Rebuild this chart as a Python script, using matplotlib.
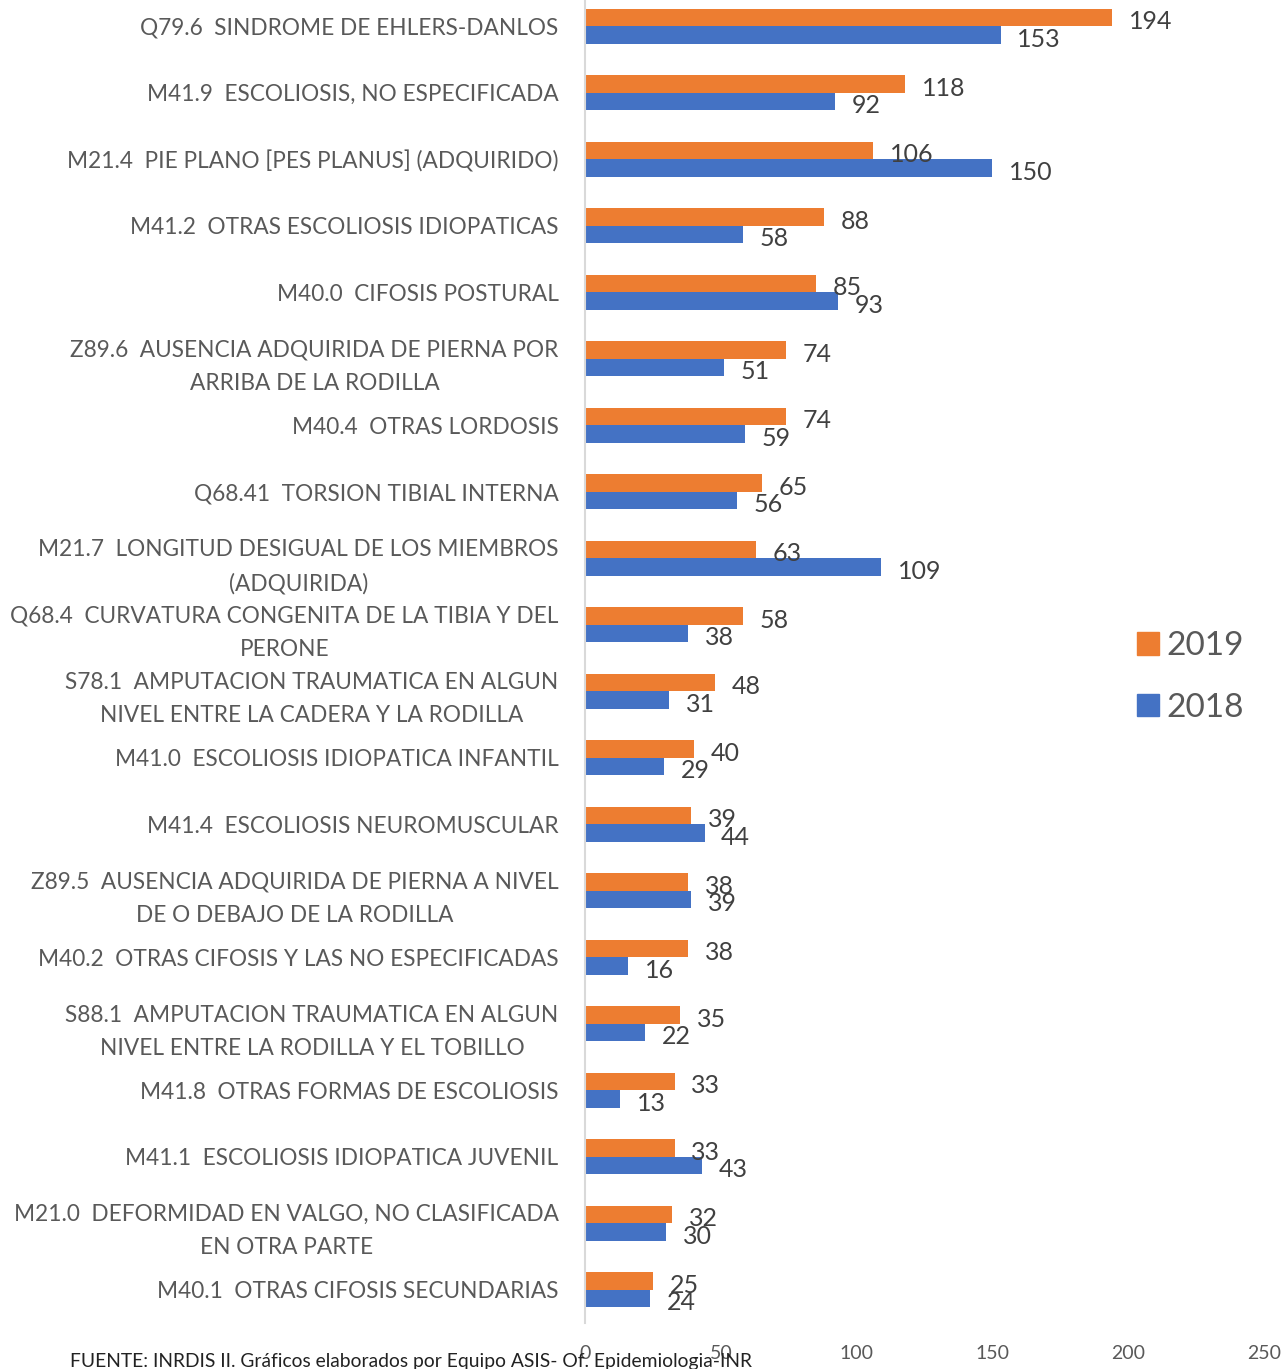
import matplotlib
matplotlib.use("Agg")
import matplotlib.pyplot as plt
from matplotlib.patches import Patch
import numpy as np

plt.rcParams['font.family'] = ['Lato', 'DejaVu Sans']

categories = [
    "Q79.6  SINDROME DE EHLERS-DANLOS",
    "M41.9  ESCOLIOSIS, NO ESPECIFICADA",
    "M21.4  PIE PLANO [PES PLANUS] (ADQUIRIDO)",
    "M41.2  OTRAS ESCOLIOSIS IDIOPATICAS",
    "M40.0  CIFOSIS POSTURAL",
    "Z89.6  AUSENCIA ADQUIRIDA DE PIERNA POR\nARRIBA DE LA RODILLA",
    "M40.4  OTRAS LORDOSIS",
    "Q68.41  TORSION TIBIAL INTERNA",
    "M21.7  LONGITUD DESIGUAL DE LOS MIEMBROS\n(ADQUIRIDA)",
    "Q68.4  CURVATURA CONGENITA DE LA TIBIA Y DEL\nPERONE",
    "S78.1  AMPUTACION TRAUMATICA EN ALGUN\nNIVEL ENTRE LA CADERA Y LA RODILLA",
    "M41.0  ESCOLIOSIS IDIOPATICA INFANTIL",
    "M41.4  ESCOLIOSIS NEUROMUSCULAR",
    "Z89.5  AUSENCIA ADQUIRIDA DE PIERNA A NIVEL\nDE O DEBAJO DE LA RODILLA",
    "M40.2  OTRAS CIFOSIS Y LAS NO ESPECIFICADAS",
    "S88.1  AMPUTACION TRAUMATICA EN ALGUN\nNIVEL ENTRE LA RODILLA Y EL TOBILLO",
    "M41.8  OTRAS FORMAS DE ESCOLIOSIS",
    "M41.1  ESCOLIOSIS IDIOPATICA JUVENIL",
    "M21.0  DEFORMIDAD EN VALGO, NO CLASIFICADA\nEN OTRA PARTE",
    "M40.1  OTRAS CIFOSIS SECUNDARIAS",
]
values_2019 = [194, 118, 106, 88, 85, 74, 74, 65, 63, 58, 48, 40, 39, 38, 38, 35, 33, 33, 32, 25]
values_2018 = [153, 92, 150, 58, 93, 51, 59, 56, 109, 38, 31, 29, 44, 39, 16, 22, 13, 43, 30, 24]
x_ticks = [0, 50, 100, 150, 200, 250]
series_names = ["2019", "2018"]

c19 = "#ED7D31"
c18 = "#4472C4"
gray = "#595959"

fig = plt.figure(figsize=(12.84, 13.69), dpi=100)
ax = fig.add_axes([585/1284, 1 - 1323/1369, (1264-585)/1284, 1330/1369])

n = len(categories)
y = np.arange(n)[::-1].astype(float)
h = 0.263
ax.barh(y + h/2, values_2019, height=h, color=c19)
ax.barh(y - h/2, values_2018, height=h, color=c18)

for yi, v in zip(y + h/2, values_2019):
    ax.annotate(str(v), xy=(v, yi), xytext=(12, -3), textcoords='offset points',
                ha='left', va='center', fontsize=18, color="#404040")
for yi, v in zip(y - h/2, values_2018):
    ax.annotate(str(v), xy=(v, yi), xytext=(12, -3), textcoords='offset points',
                ha='left', va='center', fontsize=18, color="#404040")

ax.set_xlim(0, 250)
ax.set_ylim(-0.5, n - 0.5)
ax.set_yticks(y)
ax.set_yticklabels(categories, fontsize=16.3, color=gray, multialignment='center',
                   linespacing=1.72)
ax.set_xticks(x_ticks)
ax.set_xticklabels([str(t) for t in x_ticks], fontsize=14, color=gray)
ax.tick_params(axis='y', length=0, pad=19)
ax.tick_params(axis='x', length=0, pad=16)
for s in ['top', 'right', 'bottom']:
    ax.spines[s].set_visible(False)
ax.spines['left'].set_color("#D9D9D9")
ax.spines['left'].set_linewidth(1.5)

handles = [Patch(color=c19, label=series_names[0]), Patch(color=c18, label=series_names[1])]
fig.legend(handles=handles, loc='center left', bbox_to_anchor=(1107/1284, 1 - 677/1369),
           frameon=False, fontsize=24, handlelength=0.65, handleheight=0.65,
           labelspacing=0.95, handletextpad=0.22, labelcolor=gray)

fig.text(70/1284, 1 - 1361/1369, "FUENTE: INRDIS II. Gráficos elaborados por Equipo ASIS- Of. Epidemiologia-INR",
         fontsize=13.9, color="#222222", ha='left', va='center')

fig.savefig("out.png", dpi=100)
